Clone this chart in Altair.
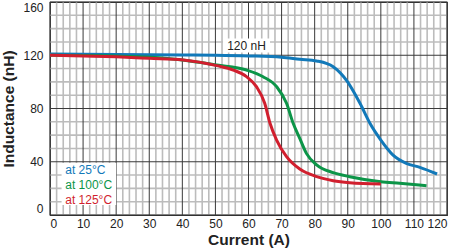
import altair as alt
import pandas as pd

FONT = "Liberation Sans"

# Curves (Current A, Inductance nH)
c25_x = [0, 10, 20, 30, 40, 50, 60, 70, 75.5, 80.6, 85.6, 89.9, 93.7, 96.7, 100, 103.7, 107.7, 111.8, 117]
c25_y = [121, 120.8, 120.6, 120.4, 120.2, 120, 119.5, 118.5, 117, 115.7, 111.4, 100.2, 83.9, 68.9, 56.3, 45, 38.8, 35.8, 30.8]

c100_x = [0, 10, 20, 30.2, 40, 50.4, 59.4, 64.4, 68.5, 71.5, 73.5, 75.5, 77.5, 80.6, 85.6, 90.6, 100, 105.7, 113.8]
c100_y = [120, 119.8, 119.4, 118.5, 116.5, 112.7, 108.9, 103.9, 96.4, 83.9, 68.9, 57.5, 46.3, 37.6, 31.8, 28.8, 25, 23.8, 22]

c125_x = [0, 10, 20, 30, 40.3, 50.4, 55.4, 59.4, 62.4, 64.9, 66.5, 68.5, 71.5, 75.5, 80.6, 85.6, 90.6, 100]
c125_y = [120, 119.5, 118.8, 117.7, 116.5, 112.2, 108.9, 103.9, 96.4, 83.9, 68.9, 56.3, 43.8, 34.5, 28.8, 25.8, 24.3, 23.3]

series_names = ["at 25°C", "at 100°C", "at 125°C"]
series_colors = ["#1279b9", "#0c9548", "#d11f2e"]

x_ticks = list(range(0, 121, 10))
y_ticks = list(range(0, 161, 40))
minor_x = [v for v in range(0, 121, 2) if v % 10 != 0]
minor_y = [v for v in range(0, 161, 10) if v % 40 != 0]

rows = []
for name, xs, ys in zip(series_names, [c25_x, c100_x, c125_x], [c25_y, c100_y, c125_y]):
    for a, b in zip(xs, ys):
        rows.append({"I": a, "L": b, "s": name})
df = pd.DataFrame(rows)

xs = alt.Scale(domain=[0, 120], nice=False, zero=False)
ys = alt.Scale(domain=[0, 160], nice=False, zero=False)

x_axis = alt.Axis(values=x_ticks, grid=False, ticks=False, domain=False,
                  labelOverlap=False, labelFlush=True,
                  labelFont=FONT, labelFontSize=12, labelColor="#222",
                  labelPadding=3, titleFont=FONT, titleFontSize=15.5,
                  titleFontWeight="bold", titleColor="#222", titlePadding=3)
y_axis = alt.Axis(values=y_ticks, grid=False, ticks=False, domain=False,
                  labelOverlap=False, labelFlush=True,
                  labelFont=FONT, labelFontSize=12, labelColor="#222",
                  labelPadding=7, titleFont=FONT, titleFontSize=15.5,
                  titleFontWeight="bold", titleColor="#222", titlePadding=6)

XT = "Current (A)"
YT = "Inductance (nH)"


def xenc(field):
    return alt.X(field, scale=xs, title=XT, axis=x_axis)


def yenc(field):
    return alt.Y(field, scale=ys, title=YT, axis=y_axis)


minor_v = alt.Chart(pd.DataFrame({"I": minor_x})).mark_rule(color="#bcbcbc", strokeWidth=1.6).encode(
    x=xenc("I:Q"))
minor_h = alt.Chart(pd.DataFrame({"L": minor_y})).mark_rule(color="#bcbcbc", strokeWidth=1.6).encode(
    y=yenc("L:Q"))
major_v = alt.Chart(pd.DataFrame({"I": x_ticks})).mark_rule(color="#3a3a3a", strokeWidth=1).encode(
    x=xenc("I:Q"))
major_h = alt.Chart(pd.DataFrame({"L": y_ticks})).mark_rule(color="#3a3a3a", strokeWidth=1).encode(
    y=yenc("L:Q"))

lines = alt.Chart(df).mark_line(strokeWidth=3, interpolate="monotone").encode(
    x=xenc("I:Q"), y=yenc("L:Q"),
    color=alt.Color("s:N", scale=alt.Scale(domain=series_names, range=series_colors), legend=None),
    order="I:Q")

# annotation boxes
box_df = pd.DataFrame({"x1": [3.5, 52.3], "x2": [20, 66.5], "y1": [7.5, 122], "y2": [39, 132.5]})
boxes = alt.Chart(box_df).mark_rect(color="white").encode(
    x=xenc("x1:Q"), x2="x2:Q", y=yenc("y1:Q"), y2="y2:Q")

label_df = pd.DataFrame({"I": [59.4], "L": [127.3], "t": ["120 nH"]})
label = alt.Chart(label_df).mark_text(font=FONT, fontSize=12, color="#222").encode(
    x=xenc("I:Q"), y=yenc("L:Q"), text="t:N")

leg_df = pd.DataFrame({"I": [4.6, 4.6, 4.6], "L": [33.6, 22.4, 11.2], "s": series_names})
legend = alt.Chart(leg_df).mark_text(font=FONT, fontSize=12, align="left").encode(
    x=xenc("I:Q"), y=yenc("L:Q"), text="s:N",
    color=alt.Color("s:N", scale=alt.Scale(domain=series_names, range=series_colors), legend=None))

chart = alt.layer(minor_v, minor_h, major_v, major_h, boxes, lines, label, legend).properties(
    width=397, height=213,
    autosize=alt.AutoSizeParams(type="none"),
    padding={"left": 50, "top": 2, "right": 4, "bottom": 33},
    background="white",
).configure_view(stroke="#2a2a2a", strokeWidth=1.2)

chart.save("out.html", embed_options={"renderer": "svg", "actions": False})
